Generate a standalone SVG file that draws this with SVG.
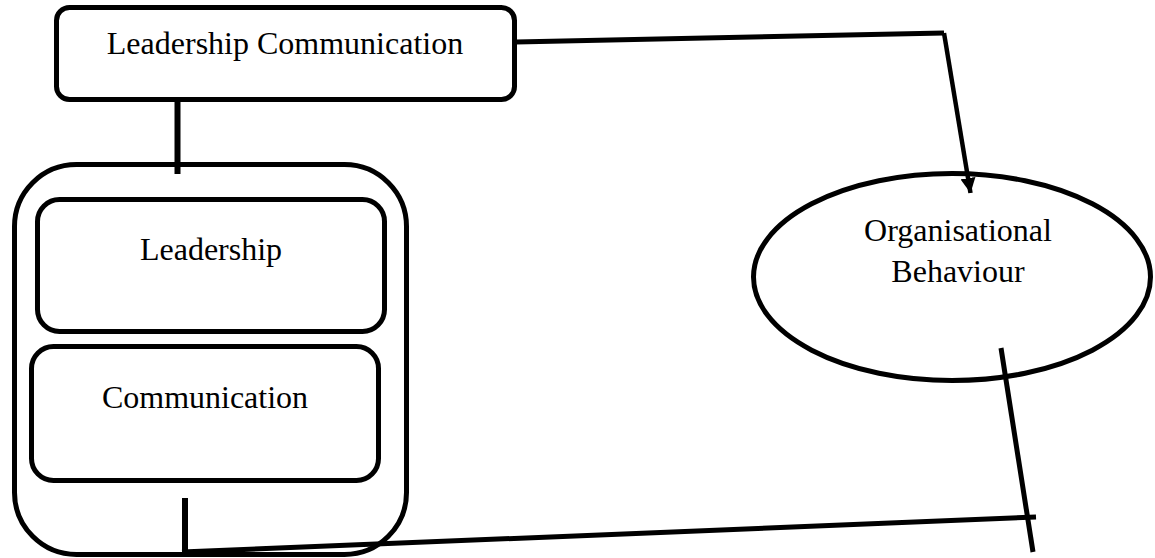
<svg xmlns="http://www.w3.org/2000/svg" width="1155" height="558" viewBox="0 0 1155 558">
<style>
.box{fill:#fff;stroke:#000;stroke-width:5}
.lbl{font-family:"Liberation Serif","Times New Roman",serif;font-size:32px;fill:#000;text-anchor:middle}
.ln{fill:none;stroke:#000;stroke-width:5;stroke-linecap:butt;stroke-linejoin:miter}
</style>
<defs>
<marker id="arr" viewBox="0 0 15 15" refX="15" refY="7.5" markerWidth="15" markerHeight="15" markerUnits="userSpaceOnUse" orient="auto">
<path d="M0,0 L15,7.5 L0,15 Z" fill="#000"/>
</marker>
</defs>
<rect width="1155" height="558" fill="#fff"/>
<g id="container">
<rect class="box" x="14.5" y="164.5" width="392" height="390" rx="62" ry="62"/>
</g>
<g id="leadership">
<rect class="box" x="37.5" y="199.5" width="347" height="132" rx="22" ry="22"/>
<text class="lbl" x="211" y="260">Leadership</text>
</g>
<g id="communication">
<rect class="box" x="31.5" y="346.5" width="347" height="134" rx="22" ry="22"/>
<text class="lbl" x="205" y="408">Communication</text>
</g>
<g id="leadership-communication">
<rect class="box" x="56.5" y="7.5" width="458" height="92" rx="13" ry="13"/>
<text class="lbl" x="285" y="54">Leadership Communication</text>
</g>
<g id="organisational-behaviour">
<ellipse class="box" cx="952" cy="277" rx="198.5" ry="103.5"/>
<text class="lbl" x="958" y="241">Organisational</text>
<text class="lbl" x="958" y="282">Behaviour</text>
</g>
<g id="connectors">
<line class="ln" x1="177.5" y1="100" x2="177.5" y2="174" style="stroke-width:6"/>
<polyline class="ln" points="516,42 944,33"/>
<line class="ln" x1="944" y1="33" x2="970.5" y2="193" style="stroke-width:4.5" marker-end="url(#arr)"/>
<line class="ln" x1="185" y1="498" x2="185" y2="557" style="stroke-width:6"/>
<line class="ln" x1="182" y1="552" x2="1036" y2="517"/>
<line class="ln" x1="1001" y1="348" x2="1033" y2="552"/>
</g>
</svg>
